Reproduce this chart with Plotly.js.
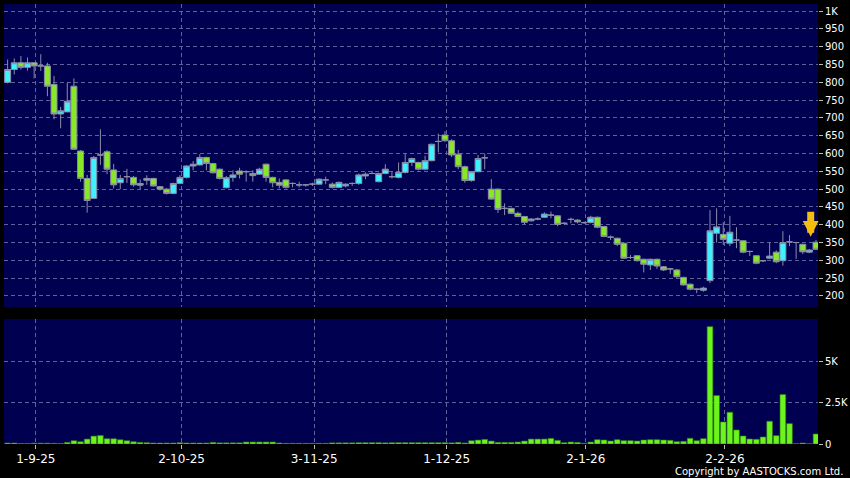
<!DOCTYPE html>
<html>
<head>
<meta charset="utf-8">
<script src="https://cdn.plot.ly/plotly-3.0.1.min.js"></script>
<style>
html,body{margin:0;padding:0;background:#000;}
#chart{width:850px;height:478px;}
</style>
</head>
<body>
<div id="chart"></div>
<script>
// Daily candles (trading-day order)
const openP = [800,836,855,842,855,846,846,794,711,717,
789,607,530,474,596,605,554,518,535,533,
511,525,530,507,500,488,516,533,565,568,
589,572,556,504,533,551,549,544,542,570,
533,519,526,516,512,512,514,514,526,514,
505,509,516,516,537,544,521,544,535,533,
547,575,575,556,580,634,652,636,598,563,
524,549,588,500,500,446,446,432,423,411,
416,421,427,425,404,415,413,406,406,421,
395,365,362,348,308,313,303,287,303,282,
276,273,252,233,219,216,243,376,373,348,
357,355,325,313,299,306,323,299,352,350,
345,323,351];
const highP = [864,867,874,870,855,879,855,818,731,799,
811,610,540,593,668,610,571,540,557,537,
527,539,532,509,503,518,539,567,579,598,
591,574,558,537,553,560,553,553,560,572,
535,530,528,519,521,514,518,530,535,519,
521,516,519,544,547,551,546,570,549,575,
600,588,577,594,628,656,663,640,610,566,
551,596,600,528,502,460,448,437,425,419,
421,435,437,427,407,420,416,409,425,423,
397,370,364,350,315,315,305,305,305,284,
279,276,254,235,221,226,441,446,407,425,
393,357,327,315,301,350,328,382,371,352,
347,332,357];
const lowP = [797,822,836,833,811,832,761,696,671,717,
610,521,434,474,568,542,502,500,517,507,
500,512,507,496,485,486,514,530,553,566,
553,544,527,502,521,530,521,521,540,521,
505,502,502,505,505,507,509,512,514,502,
503,505,509,512,528,542,519,542,530,530,
544,565,553,553,578,603,633,590,556,518,
521,547,556,470,433,427,430,421,402,409,
413,419,418,396,401,404,404,402,404,390,
365,357,340,304,304,297,266,273,276,270,
262,251,229,216,208,212,236,350,343,340,
334,320,312,289,295,303,292,285,340,304,
318,320,329];
const closeP = [836,855,842,855,846,846,789,711,720,747,
612,530,468,589,596,556,512,530,535,512,
516,530,509,500,488,516,533,565,570,589,
572,546,530,532,540,542,549,538,556,533,
518,511,505,516,512,512,514,528,526,505,
519,514,516,540,542,544,544,556,535,547,
575,586,556,580,626,634,636,596,563,524,
549,586,588,472,443,446,432,423,407,416,
416,430,427,401,404,415,408,406,421,393,
367,365,345,306,308,299,289,303,284,273,
276,254,231,219,219,222,383,394,359,379,
357,323,325,292,299,312,296,350,352,350,
324,329,331];
const volume = [60,60,30,30,50,50,50,40,30,100,
200,140,300,480,520,320,320,260,200,140,
100,80,60,60,60,60,80,60,60,60,
60,100,70,70,70,70,120,120,120,120,
120,60,40,40,40,40,40,40,40,70,
70,70,70,80,80,80,80,70,80,80,
80,80,80,80,80,80,80,70,100,60,
200,240,280,180,100,100,100,120,180,300,
300,300,340,220,80,120,100,40,120,264,
244,183,264,203,203,183,244,264,264,244,
224,142,163,346,203,325,7136,2948,1342,1931,
854,488,305,285,427,1382,508,3009,1240,20,
60,20,610];

// Date tick labels and the trading-day index they sit on
const dateTickIdx = [5,27,47,67,88,109];
const dateTickText = ['1-9-25','2-10-25','3-11-25','1-12-25','2-1-26','2-2-26'];
const priceTicks = [200,250,300,350,400,450,500,550,600,650,700,750,800,850,900,950,1000];
const priceTickText = ['200','250','300','350','400','450','500','550','600','650','700','750','800','850','900','950','1K'];
const volTicks = [0,2500,5000];
const volTickText = ['0','2.5K','5K'];

const xIdx = openP.map((_, i) => i + 1);
const lastIdx = xIdx[xIdx.length - 1];
const tickPos = dateTickIdx.map(v => v + 0.25);

const gridCol = '#60609a';
const gridDash = '4px,3px';
const font = 'DejaVu Sans, Verdana, sans-serif';

const candle = {
  type: 'candlestick',
  x: xIdx, open: openP, high: highP, low: lowP, close: closeP,
  xaxis: 'x', yaxis: 'y',
  increasing: {line: {color: '#8c8ca6', width: 1}, fillcolor: '#3ff0ff'},
  decreasing: {line: {color: '#8c8ca6', width: 1}, fillcolor: '#86e826'},
  whiskerwidth: 0,
  hoverinfo: 'skip',
  showlegend: false
};
const vol = {
  type: 'bar', x: xIdx, y: volume, xaxis: 'x2', yaxis: 'y2',
  marker: {color: '#6cf51c', line: {color: '#2f7a12', width: 0.6}},
  hoverinfo: 'skip', showlegend: false
};

const xr = [0.45, 123.3];
const layout = {
  width: 850, height: 478,
  paper_bgcolor: '#000000', plot_bgcolor: '#000050',
  margin: {l: 4, r: 32, t: 4, b: 34},
  boxgap: 0.1, boxgroupgap: 0, bargap: 0.14,
  showlegend: false,
  font: {family: font, color: '#ffffff', size: 10},
  xaxis: {
    domain: [0, 1], anchor: 'y', range: xr, type: 'linear',
    rangeslider: {visible: false},
    tickmode: 'array', tickvals: tickPos, ticktext: dateTickText,
    showticklabels: false, ticks: '', showgrid: true,
    gridcolor: gridCol, griddash: gridDash, gridwidth: 1,
    zeroline: false, showline: false, fixedrange: true
  },
  yaxis: {
    domain: [0.3114, 1], anchor: 'x', side: 'right', range: [169, 1020],
    tickmode: 'array', tickvals: priceTicks, ticktext: priceTickText,
    ticks: 'outside', ticklen: 4, tickcolor: '#bbbbbb', tickwidth: 1,
    tickfont: {family: font, size: 10, color: '#ffffff'},
    showgrid: true, gridcolor: gridCol, griddash: gridDash, gridwidth: 1,
    zeroline: false, showline: false, fixedrange: true
  },
  xaxis2: {
    domain: [0, 1], anchor: 'y2', range: xr, type: 'linear',
    tickmode: 'array', tickvals: tickPos, ticktext: dateTickText,
    ticks: 'outside', ticklen: 4, tickcolor: '#bbbbbb', tickwidth: 1,
    tickfont: {family: font, size: 12, color: '#ffffff'},
    showgrid: true, gridcolor: gridCol, griddash: gridDash, gridwidth: 1,
    zeroline: false, showline: false, fixedrange: true
  },
  yaxis2: {
    domain: [0, 0.284], anchor: 'x2', side: 'right', range: [0, 7600],
    tickmode: 'array', tickvals: volTicks, ticktext: volTickText,
    ticks: 'outside', ticklen: 4, tickcolor: '#bbbbbb', tickwidth: 1,
    tickfont: {family: font, size: 10, color: '#ffffff'},
    showgrid: true, gridcolor: gridCol, griddash: gridDash, gridwidth: 1,
    zeroline: false, showline: false, fixedrange: true
  },
  annotations: [
    {
      xref: 'x', yref: 'y', x: lastIdx - 0.8, y: highP[lastIdx - 1] + 9,
      ax: 0, ay: -27, text: ' ', font: {size: 1}, showarrow: true,
      arrowhead: 2, arrowsize: 0.45, arrowwidth: 7, arrowcolor: '#f5bd10'
    },
    {
      xref: 'paper', yref: 'paper', x: 1.0335, y: -0.062,
      xanchor: 'right', yanchor: 'middle', showarrow: false,
      text: 'Copyright by AASTOCKS.com Ltd.',
      font: {family: font, size: 10, color: '#ffffff'}
    }
  ]
};

Plotly.newPlot('chart', [candle, vol], layout, {displayModeBar: false, staticPlot: true});
</script>
</body>
</html>
